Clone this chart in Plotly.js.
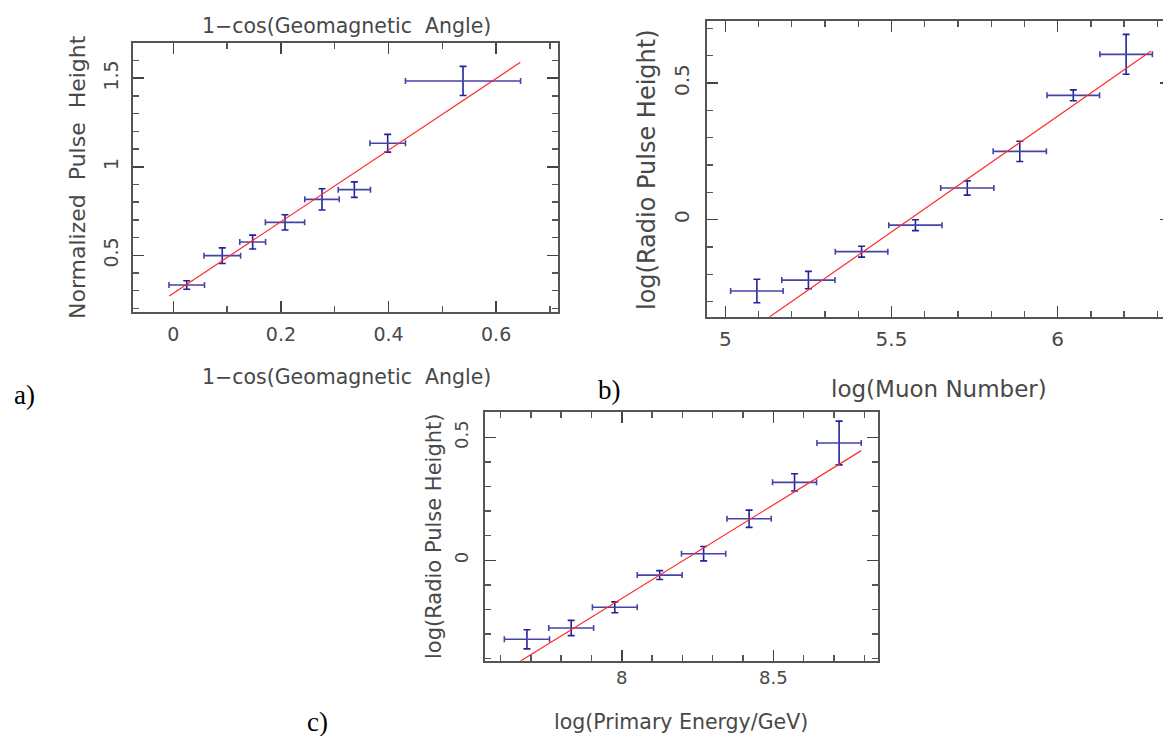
<!DOCTYPE html>
<html>
<head>
<meta charset="utf-8">
<script src="https://cdn.plot.ly/plotly-3.0.1.min.js"></script>
<style>
  html, body { margin: 0; padding: 0; background: #ffffff; overflow: hidden; }
  #chart { width: 1175px; height: 736px; }
</style>
</head>
<body>
<div id="chart"></div>
<script>
// ---------- Panel a: 1-cos(Geomagnetic Angle) vs Normalized Pulse Height ----------
const geoX      = [0.025, 0.091, 0.1475, 0.2076, 0.2764, 0.3365, 0.3985, 0.5385];
const geoXErr   = [0.033, 0.034, 0.024, 0.0365, 0.032, 0.030, 0.033, 0.107];
const pulseY    = [0.332, 0.498, 0.575, 0.686, 0.816, 0.871, 1.133, 1.485];
const pulseYErr = [0.024, 0.044, 0.039, 0.043, 0.060, 0.044, 0.050, 0.082];
const fitAX     = [-0.0075, 0.645];
const fitAY     = [0.270, 1.590];

// ---------- Panel b: log(Muon Number) vs log(Radio Pulse Height) ----------
const muonX      = [5.095, 5.250, 5.410, 5.572, 5.728, 5.886, 6.047, 6.206];
const muonXErr   = [0.079, 0.080, 0.079, 0.080, 0.080, 0.080, 0.079, 0.079];
const radioBY    = [-0.261, -0.221, -0.117, -0.020, 0.116, 0.250, 0.455, 0.605];
const radioBYErr = [0.043, 0.032, 0.020, 0.020, 0.026, 0.037, 0.020, 0.073];
const fitBX      = [5.016, 6.28];
const fitBY      = [-0.455, 0.616];

// ---------- Panel c: log(Primary Energy/GeV) vs log(Radio Pulse Height) ----------
const energyX    = [7.687, 7.833, 7.977, 8.125, 8.270, 8.420, 8.570, 8.717];
const energyXErr = [0.0745, 0.074, 0.074, 0.074, 0.073, 0.073, 0.0726, 0.073];
const radioCY    = [-0.321, -0.275, -0.191, -0.060, 0.027, 0.169, 0.317, 0.477];
const radioCYErr = [0.039, 0.031, 0.022, 0.018, 0.029, 0.035, 0.035, 0.089];
const fitCX      = [7.6125, 8.79];
const fitCY      = [-0.450, 0.446];

// ---------- Text ----------
const titleGeo    = "1\u2212cos(Geomagnetic  Angle)";
const titleNorm   = "Normalized  Pulse  Height";
const titleRadio  = "log(Radio Pulse Height)";
const titleMuon   = "log(Muon Number)";
const titleEnergy = "log(Primary Energy/GeV)";
const panelLabels = ["a)", "b)", "c)"];

// ---------- Styling ----------
const W = 1175, H = 736;
const FONT = "DejaVu Sans, Liberation Sans, sans-serif";
const TXT = "#484848";
const ERR_V = "#22229c";
const ERR_H = "#4444a8";
const FIT = "#ff2a2a";

function px(x) { return x / W; }
function py(y) { return 1 - y / H; }

function errTrace(x, xe, y, ye, xa, ya) {
  return {
    type: "scatter", mode: "markers", x: x, y: y, xaxis: xa, yaxis: ya,
    marker: { size: 1, color: ERR_V, opacity: 0 },
    error_x: { type: "data", array: xe, visible: true, color: ERR_H, thickness: 1.6, width: 3 },
    error_y: { type: "data", array: ye, visible: true, color: ERR_V, thickness: 1.6, width: 3.5 },
    hoverinfo: "skip", showlegend: false
  };
}
function fitTrace(x, y, xa, ya) {
  return {
    type: "scatter", mode: "lines", x: x, y: y, xaxis: xa, yaxis: ya,
    line: { color: FIT, width: 1.2 }, hoverinfo: "skip", showlegend: false
  };
}

function axis(range, dtick, domain, anchor, isY, fontSize, standoff) {
  const a = {
    range: range, domain: domain, anchor: anchor,
    dtick: dtick, tick0: 0,
    showline: true, linecolor: "#555555", linewidth: 2, mirror: "allticks",
    ticks: "inside", ticklen: 11, tickwidth: 1.6, tickcolor: "#444444",
    minor: { dtick: 0.1, tick0: 0, ticks: "inside", ticklen: 6, tickwidth: 1.4, tickcolor: "#555555", showgrid: false },
    showgrid: false, zeroline: false,
    tickfont: { family: FONT, size: fontSize, color: TXT },
    ticklabelstandoff: standoff,
    fixedrange: true
  };
  if (isY) a.tickangle = -90;
  return a;
}

const data = [
  errTrace(geoX, geoXErr, pulseY, pulseYErr, "x", "y"),
  fitTrace(fitAX, fitAY, "x", "y"),
  errTrace(muonX, muonXErr, radioBY, radioBYErr, "x2", "y2"),
  fitTrace(fitBX, fitBY, "x2", "y2"),
  errTrace(energyX, energyXErr, radioCY, radioCYErr, "x3", "y3"),
  fitTrace(fitCX, fitCY, "x3", "y3")
];

function ann(text, x, y, size, angle, family) {
  return {
    text: text, xref: "paper", yref: "paper", x: px(x), y: py(y),
    xanchor: "center", yanchor: "middle", showarrow: false, textangle: angle || 0,
    font: { family: family || FONT, size: size, color: family ? "#000000" : TXT }
  };
}
const SERIF = "Liberation Serif, DejaVu Serif, serif";

const layout = {
  width: W, height: H,
  margin: { l: 0, r: 0, t: 0, b: 0 },
  paper_bgcolor: "#ffffff", plot_bgcolor: "#ffffff",
  showlegend: false,
  xaxis:  axis([-0.0755, 0.7156], 0.2, [px(132.7), px(558.3)], "y", false, 19, 4),
  yaxis:  axis([0.178, 1.701], 0.5, [py(312.3), py(42.7)], "x", true, 19, 5),
  xaxis2: axis([4.944, 6.341], 0.5, [px(706.7), px(1171)], "y2", false, 20, 3),
  yaxis2: axis([-0.355, 0.727], 0.5, [py(316.7), py(21)], "x2", true, 20, 8),
  xaxis3: axis([7.547, 8.845], 0.5, [px(484.5), px(877.9)], "y3", false, 18, 0),
  yaxis3: axis([-0.408, 0.603], 0.5, [py(660.7), py(412)], "x3", true, 18, 7),
  annotations: [
    ann(titleGeo, 346, 25.5, 20.5),
    ann(titleGeo, 346, 377, 20.5),
    ann(titleNorm, 77, 177, 22, -90),
    ann(titleRadio, 647, 170, 24, -90),
    ann(titleMuon, 938.5, 389, 23),
    ann(titleRadio, 434, 537, 21, -90),
    ann(titleEnergy, 681, 721.5, 20.5),
    ann(panelLabels[0], 24, 395, 27, 0, SERIF),
    ann(panelLabels[1], 609, 390, 27, 0, SERIF),
    ann(panelLabels[2], 317, 722, 27, 0, SERIF)
  ]
};

Plotly.newPlot("chart", data, layout, { displayModeBar: false, staticPlot: true });
</script>
</body>
</html>
